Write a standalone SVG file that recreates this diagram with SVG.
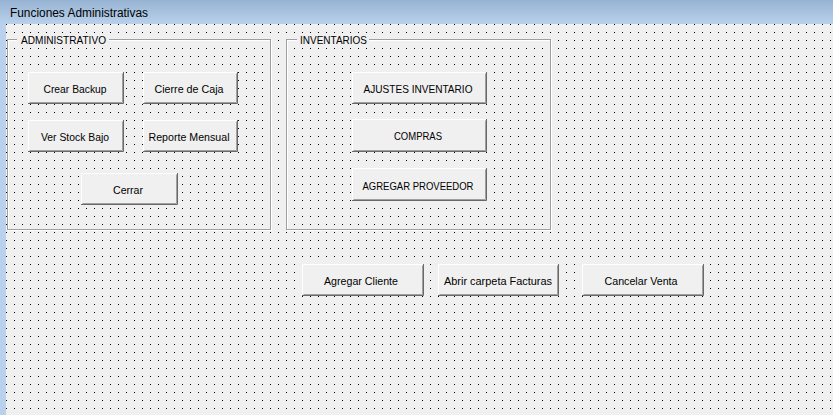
<svg xmlns="http://www.w3.org/2000/svg" width="833" height="415" viewBox="0 0 833 415">
<defs>
<linearGradient id="tb" x1="0" y1="0" x2="0" y2="1">
<stop offset="0" stop-color="#97b3d3"/>
<stop offset="1" stop-color="#b9d1ea"/>
</linearGradient>
<pattern id="dots" patternUnits="userSpaceOnUse" x="6" y="0" width="8" height="8">
<rect x="0" y="0" width="1" height="1" fill="#000"/>
</pattern>
</defs>
<style>
.face{fill:#f0f0f0}
.hi{fill:none;stroke:#ffffff;stroke-width:1}
.sh1{fill:none;stroke:#696969;stroke-width:1}
.sh2{fill:none;stroke:#a0a0a0;stroke-width:1}
.lbl{font-family:"Liberation Sans",Arial,sans-serif;font-size:11.8px;fill:#000;text-anchor:middle}
.flbl{font-family:"Liberation Sans",Arial,sans-serif;font-size:11.8px;fill:#000}
.frm{fill:none;stroke:#a0a0a0;stroke-width:1}
.frmw{fill:none;stroke:#ffffff;stroke-width:1}
</style>
<!-- window chrome -->
<rect x="0" y="0" width="833" height="24" fill="url(#tb)"/>
<rect x="0" y="24" width="6" height="391" fill="#b9d1ea"/>
<text x="10" y="17" font-family="'Liberation Sans',Arial,sans-serif" font-size="12.5" fill="#000" textLength="138" lengthAdjust="spacingAndGlyphs">Funciones Administrativas</text>
<!-- form area -->
<rect x="6" y="24" width="827" height="391" fill="#f0f0f0"/>
<rect x="6" y="24" width="827" height="391" fill="url(#dots)"/>

<!-- frames -->
<g id="frame-administrativo">
<rect class="frmw" x="8.5" y="40.5" width="263" height="190"/>
<rect class="frm" x="7.5" y="39.5" width="263" height="190"/>
<rect x="17" y="33" width="92" height="12" fill="#f0f0f0"/>
<text class="flbl" x="21" y="43.5" textLength="85" lengthAdjust="spacingAndGlyphs">ADMINISTRATIVO</text>
</g>
<g id="frame-inventarios">
<rect class="frmw" x="287.5" y="40.5" width="264" height="190"/>
<rect class="frm" x="286.5" y="39.5" width="264" height="190"/>
<rect x="297" y="33" width="72" height="12" fill="#f0f0f0"/>
<text class="flbl" x="300" y="43.5" textLength="67" lengthAdjust="spacingAndGlyphs">INVENTARIOS</text>
</g>

<!-- buttons -->
<g id="btn-crear-backup">
<rect class="face" x="28" y="72" width="96" height="32"/>
<polyline class="hi" points="28.5,103 28.5,72.5 123,72.5"/>
<polyline class="sh1" points="28,103.5 123.5,103.5 123.5,72"/>
<polyline class="sh2" points="29.5,102.5 122.5,102.5 122.5,73.5"/>
<text class="lbl" x="75" y="92.5" textLength="63" lengthAdjust="spacingAndGlyphs">Crear Backup</text>
</g>
<g id="btn-cierre-caja">
<rect class="face" x="143" y="72" width="95" height="32"/>
<polyline class="hi" points="143.5,103 143.5,72.5 237,72.5"/>
<polyline class="sh1" points="143,103.5 237.5,103.5 237.5,72"/>
<polyline class="sh2" points="144.5,102.5 236.5,102.5 236.5,73.5"/>
<text class="lbl" x="189" y="92.5" textLength="69" lengthAdjust="spacingAndGlyphs">Cierre de Caja</text>
</g>
<g id="btn-ver-stock">
<rect class="face" x="28" y="120" width="96" height="32"/>
<polyline class="hi" points="28.5,151 28.5,120.5 123,120.5"/>
<polyline class="sh1" points="28,151.5 123.5,151.5 123.5,120"/>
<polyline class="sh2" points="29.5,150.5 122.5,150.5 122.5,121.5"/>
<text class="lbl" x="75" y="140.5" textLength="68" lengthAdjust="spacingAndGlyphs">Ver Stock Bajo</text>
</g>
<g id="btn-reporte-mensual">
<rect class="face" x="143" y="120" width="95" height="32"/>
<polyline class="hi" points="143.5,151 143.5,120.5 237,120.5"/>
<polyline class="sh1" points="143,151.5 237.5,151.5 237.5,120"/>
<polyline class="sh2" points="144.5,150.5 236.5,150.5 236.5,121.5"/>
<text class="lbl" x="189" y="140.5" textLength="81" lengthAdjust="spacingAndGlyphs">Reporte Mensual</text>
</g>
<g id="btn-cerrar">
<rect class="face" x="81" y="173" width="97" height="32"/>
<polyline class="hi" points="81.5,204 81.5,173.5 177,173.5"/>
<polyline class="sh1" points="81,204.5 177.5,204.5 177.5,173"/>
<polyline class="sh2" points="82.5,203.5 176.5,203.5 176.5,174.5"/>
<text class="lbl" x="128" y="193.5" textLength="30" lengthAdjust="spacingAndGlyphs">Cerrar</text>
</g>
<g id="btn-ajustes-inventario">
<rect class="face" x="352" y="72" width="135" height="32"/>
<polyline class="hi" points="352.5,103 352.5,72.5 486,72.5"/>
<polyline class="sh1" points="352,103.5 486.5,103.5 486.5,72"/>
<polyline class="sh2" points="353.5,102.5 485.5,102.5 485.5,73.5"/>
<text class="lbl" x="418" y="92.5" textLength="109" lengthAdjust="spacingAndGlyphs">AJUSTES INVENTARIO</text>
</g>
<g id="btn-compras">
<rect class="face" x="352" y="119" width="135" height="33"/>
<polyline class="hi" points="352.5,151 352.5,119.5 486,119.5"/>
<polyline class="sh1" points="352,151.5 486.5,151.5 486.5,119"/>
<polyline class="sh2" points="353.5,150.5 485.5,150.5 485.5,120.5"/>
<text class="lbl" x="418" y="139.5" textLength="48" lengthAdjust="spacingAndGlyphs">COMPRAS</text>
</g>
<g id="btn-agregar-proveedor">
<rect class="face" x="352" y="168" width="135" height="33"/>
<polyline class="hi" points="352.5,200 352.5,168.5 486,168.5"/>
<polyline class="sh1" points="352,200.5 486.5,200.5 486.5,168"/>
<polyline class="sh2" points="353.5,199.5 485.5,199.5 485.5,169.5"/>
<text class="lbl" x="418" y="189.5" textLength="111" lengthAdjust="spacingAndGlyphs">AGREGAR PROVEEDOR</text>
</g>
<g id="btn-agregar-cliente">
<rect class="face" x="302" y="264" width="122" height="32"/>
<polyline class="hi" points="302.5,295 302.5,264.5 423,264.5"/>
<polyline class="sh1" points="302,295.5 423.5,295.5 423.5,264"/>
<polyline class="sh2" points="303.5,294.5 422.5,294.5 422.5,265.5"/>
<text class="lbl" x="361" y="284.5" textLength="74" lengthAdjust="spacingAndGlyphs">Agregar Cliente</text>
</g>
<g id="btn-abrir-facturas">
<rect class="face" x="438" y="264" width="121" height="32"/>
<polyline class="hi" points="438.5,295 438.5,264.5 558,264.5"/>
<polyline class="sh1" points="438,295.5 558.5,295.5 558.5,264"/>
<polyline class="sh2" points="439.5,294.5 557.5,294.5 557.5,265.5"/>
<text class="lbl" x="498" y="284.5" textLength="108" lengthAdjust="spacingAndGlyphs">Abrir carpeta Facturas</text>
</g>
<g id="btn-cancelar-venta">
<rect class="face" x="582" y="264" width="122" height="32"/>
<polyline class="hi" points="582.5,295 582.5,264.5 703,264.5"/>
<polyline class="sh1" points="582,295.5 703.5,295.5 703.5,264"/>
<polyline class="sh2" points="583.5,294.5 702.5,294.5 702.5,265.5"/>
<text class="lbl" x="641" y="284.5" textLength="73" lengthAdjust="spacingAndGlyphs">Cancelar Venta</text>
</g>
<g id="connectors"></g>
</svg>
